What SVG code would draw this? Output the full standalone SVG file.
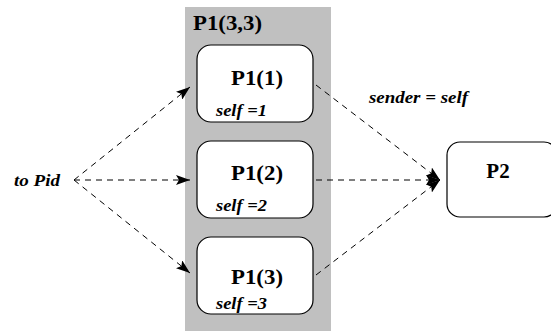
<svg xmlns="http://www.w3.org/2000/svg" width="551" height="331" viewBox="0 0 551 331">
<defs>
<marker id="ah" markerWidth="14" markerHeight="10" refX="14" refY="5" orient="auto" markerUnits="userSpaceOnUse">
<path d="M0,0 L14,5 L0,10 L3,5 Z" fill="#000"/>
</marker>
</defs>
<rect x="0" y="0" width="551" height="331" fill="#fff"/>
<g id="container">
<rect x="185" y="7" width="146" height="324" fill="#c0c0c0"/>
<text x="193" y="30" font-size="21" font-weight="bold" font-family="Liberation Serif" textLength="69" lengthAdjust="spacingAndGlyphs">P1(3,3)</text>
</g>
<g id="connectors" fill="none" stroke="#000" stroke-width="1" stroke-dasharray="6,5">
<line x1="74" y1="180" x2="190" y2="87" marker-end="url(#ah)"/>
<line x1="74" y1="180" x2="190" y2="180" marker-end="url(#ah)"/>
<line x1="74" y1="180" x2="190" y2="273" marker-end="url(#ah)"/>
<line x1="316" y1="85" x2="440" y2="180" marker-end="url(#ah)"/>
<line x1="316" y1="180" x2="440" y2="180" marker-end="url(#ah)"/>
<line x1="316" y1="275" x2="440" y2="180" marker-end="url(#ah)"/>
</g>
<g id="toPid"><text x="14" y="186" font-size="17" font-weight="bold" font-style="italic" font-family="Liberation Serif" textLength="46" lengthAdjust="spacingAndGlyphs">to Pid</text></g>
<g id="senderLabel"><text x="369" y="103" font-size="17" font-weight="bold" font-style="italic" font-family="Liberation Serif" textLength="99" lengthAdjust="spacingAndGlyphs">sender = self</text></g>
<g id="p1_1">
<rect x="197" y="45" width="116" height="77" rx="14" fill="#fff" stroke="#000" stroke-width="1.2"/>
<text x="231" y="85" font-size="21" font-weight="bold" font-family="Liberation Serif" textLength="52" lengthAdjust="spacingAndGlyphs">P1(1)</text>
<text x="216" y="116" font-size="17" font-weight="bold" font-style="italic" font-family="Liberation Serif" textLength="51" lengthAdjust="spacingAndGlyphs">self =1</text>
</g>
<g id="p1_2">
<rect x="197" y="141" width="116" height="77" rx="14" fill="#fff" stroke="#000" stroke-width="1.2"/>
<text x="231" y="180" font-size="21" font-weight="bold" font-family="Liberation Serif" textLength="52" lengthAdjust="spacingAndGlyphs">P1(2)</text>
<text x="216" y="211" font-size="17" font-weight="bold" font-style="italic" font-family="Liberation Serif" textLength="51" lengthAdjust="spacingAndGlyphs">self =2</text>
</g>
<g id="p1_3">
<rect x="197" y="237" width="116" height="77" rx="14" fill="#fff" stroke="#000" stroke-width="1.2"/>
<text x="231" y="284" font-size="21" font-weight="bold" font-family="Liberation Serif" textLength="52" lengthAdjust="spacingAndGlyphs">P1(3)</text>
<text x="216" y="309" font-size="17" font-weight="bold" font-style="italic" font-family="Liberation Serif" textLength="51" lengthAdjust="spacingAndGlyphs">self =3</text>
</g>
<g id="p2">
<rect x="447" y="142" width="110" height="75" rx="13" fill="#fff" stroke="#000" stroke-width="1.2"/>
<text x="498" y="178" font-size="21" font-weight="bold" text-anchor="middle" font-family="Liberation Serif">P2</text>
</g>
</svg>
